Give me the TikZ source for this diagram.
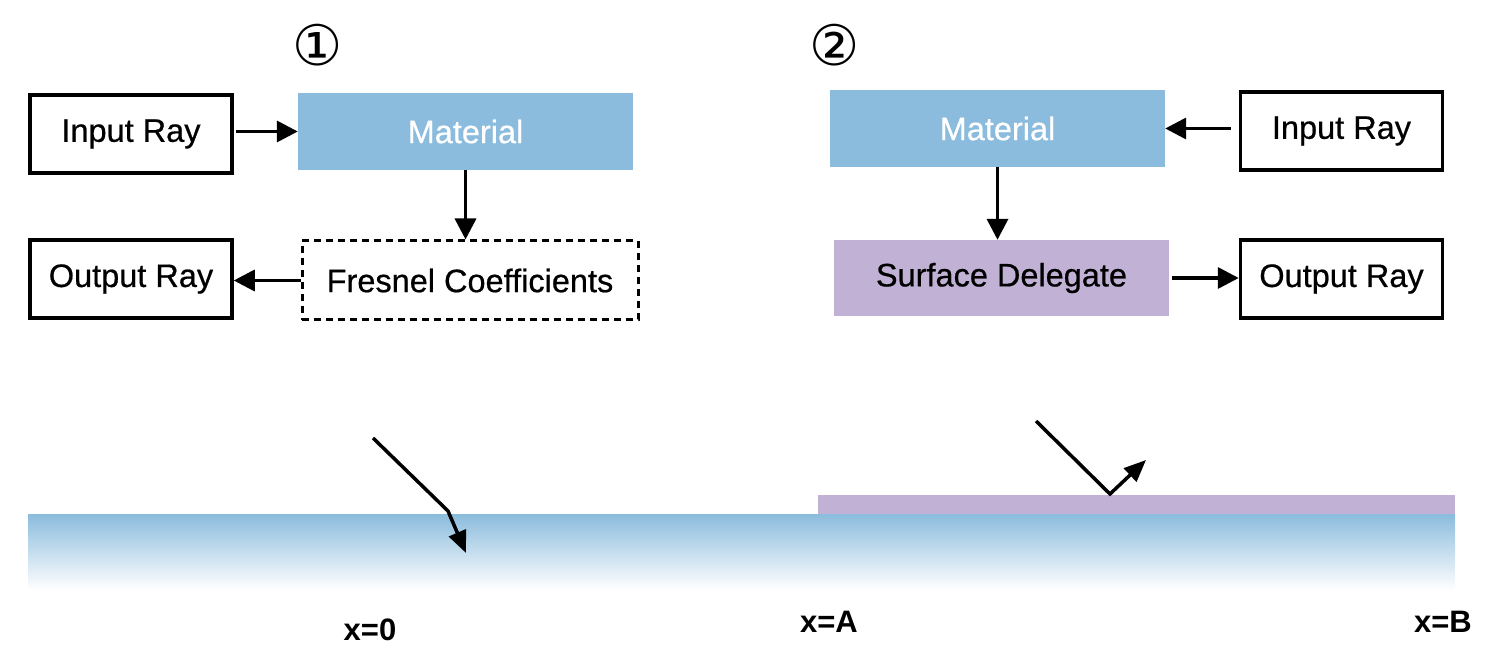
\documentclass[tikz,border=0pt]{standalone}
\usepackage{fontspec}
\setmainfont{Liberation Sans}
\newfontfamily\heavyfont{Liberation Sans}[FakeBold=0.6]
\newfontfamily\circfont{DejaVu Sans}
\usetikzlibrary{arrows.meta}
\definecolor{matblue}{HTML}{8BBCDD}
\definecolor{surfpurple}{HTML}{C1B2D5}
\tikzset{
  boxfont/.style={font=\heavyfont\fontsize{32.5}{38}\selectfont},
  box/.style={draw=black, line width=3.5pt, minimum width=202pt, minimum height=78pt, inner sep=0pt, boxfont},
  matbox/.style={fill=matblue, minimum width=335pt, minimum height=77pt, inner sep=0pt, text=white, boxfont},
  surfbox/.style={fill=surfpurple, minimum width=335pt, minimum height=76pt, inner sep=0pt, boxfont},
  dashbox/.style={draw=black, line width=3pt, dash pattern=on 7pt off 5pt, minimum width=336pt, minimum height=79pt, inner sep=0pt, boxfont},
  conn/.style={line width=3.5pt, -{Triangle[length=21pt,width=21pt]}},
  ray/.style={line width=3.5pt, line join=miter, -{Triangle[length=22pt,width=18pt]}},
  axislabel/.style={font=\bfseries\fontsize{31}{36}\selectfont},
  circnum/.style={font=\circfont\fontsize{56}{60}\selectfont, inner sep=0pt}
}
\begin{document}
\begin{tikzpicture}[x=1pt,y=-1pt]
\useasboundingbox (0,0) rectangle (1494,660);
% panel 1
\node[circnum] (c1) at (318,45) {①};
\node[box] (in1) at (131,134) {Input Ray};
\node[matbox] (mat1) at (465.5,131.5) {Material};
\node[dashbox] (fres) at (470,280.5) {Fresnel Coefficients};
\node[box] (out1) at (131,279) {Output Ray};
\draw[conn] (in1.east |- mat1.west) ++(2,0) coordinate (a1) (a1) -- (mat1.west);
\draw[conn] (mat1.south) -- (mat1.south |- fres.north);
\draw[conn] (fres.west) -- (fres.west -| out1.east);
% panel 2
\node[circnum] (c2) at (835,45) {②};
\node[matbox] (mat2) at (997.5,128.5) {Material};
\node[box] (in2) at (1341.5,131) {Input Ray};
\node[surfbox] (surf) at (1001.5,278) {Surface Delegate};
\node[box] (out2) at (1341.5,279) {Output Ray};
\draw[conn, shorten <=8pt] (in2.west |- mat2.east) -- (mat2.east);
\draw[conn] (mat2.south) -- (mat2.south |- surf.north);
\draw[conn, shorten <=3pt] (surf.east) -- (surf.east -| out2.west);
% ground
\shade[top color=matblue, bottom color=white] (28,514) rectangle (1455,590);
\fill[surfpurple] (818,495) rectangle (1455,514);
% rays
\coordinate (r1s) at (373,438);
\coordinate (r1b) at (448,511);
\coordinate (r1e) at (466,553);
\draw[ray] (r1s) -- (r1b) -- (r1e);
\coordinate (r2s) at (1036,421);
\coordinate (r2b) at (1110,494);
\coordinate (r2e) at (1146,460);
\draw[ray] (r2s) -- (r2b) -- (r2e);
% labels
\node[axislabel] (l0) at (370,630) {x=0};
\node[axislabel] (lA) at (829,622) {x=A};
\node[axislabel] (lB) at (1443,622) {x=B};
\end{tikzpicture}
\end{document}
